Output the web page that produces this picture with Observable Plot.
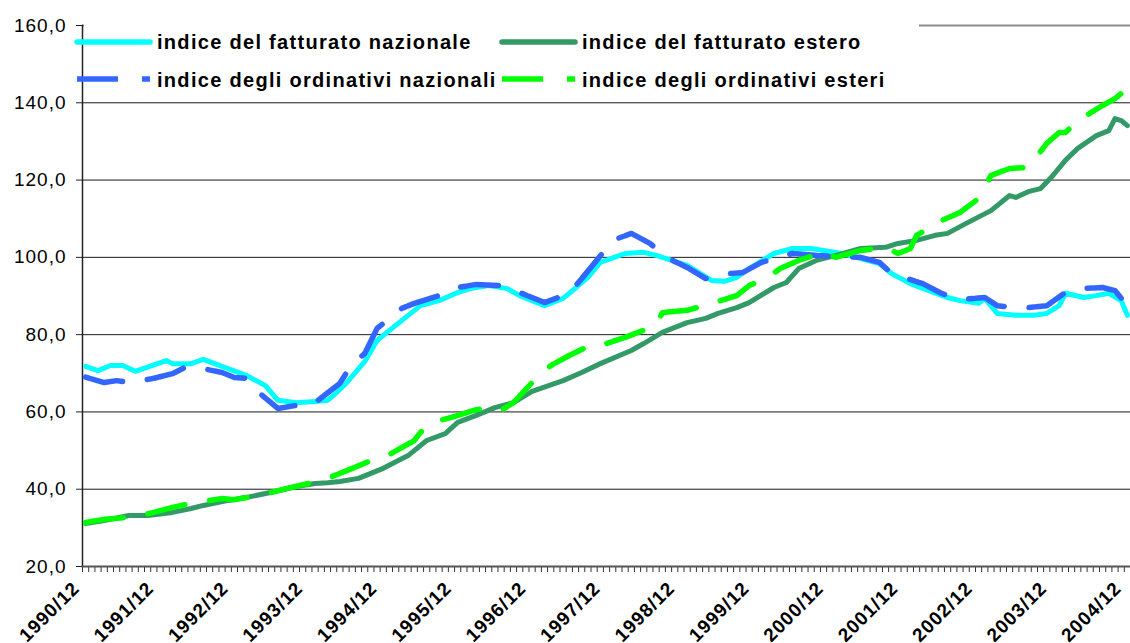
<!DOCTYPE html>
<html><head><meta charset="utf-8">
<script src="https://cdn.jsdelivr.net/npm/d3@7"></script>
<script src="https://cdn.jsdelivr.net/npm/@observablehq/plot@0.6"></script>
<style>
html,body{margin:0;padding:0;background:#fff;}
#wrap{position:relative;width:1130px;height:643px;overflow:hidden;font-family:"Liberation Sans",Arial,sans-serif;}
#wrap svg.plot text{letter-spacing:1px;}
#legend{position:absolute;left:0;top:0;}
#legend text{font-family:"Liberation Sans",Arial,sans-serif;font-weight:bold;font-size:20px;letter-spacing:1.3px;fill:#000;}
</style></head><body><div id="wrap"></div>
<script>
const tickLabels = ["1990/12","1991/12","1992/12","1993/12","1994/12","1995/12","1996/12","1997/12","1998/12","1999/12","2000/12","2001/12","2002/12","2003/12","2004/12"];
const yTicks = [20,40,60,80,100,120,140,160];
const seriesNames = ["indice del fatturato nazionale","indice del fatturato estero","indice degli ordinativi nazionali","indice degli ordinativi esteri"];
const seriesColors = ["#00FFFF","#339966","#3366FF","#00FF00"];

const fatturatoNazionale = [["1990/12",71.8],["1991/02",70.7],["1991/04",72.0],["1991/06",72.0],["1991/08",70.5],["1992/01",73.3],["1992/02",72.5],["1992/05",72.5],["1992/07",73.6],["1992/10",71.8],["1993/02",69.4],["1993/05",66.8],["1993/07",63.0],["1993/10",62.4],["1994/01",62.7],["1994/03",63.0],["1994/04",64.3],["1994/06",67.4],["1994/09",73.0],["1994/11",78.5],["1995/03",83.7],["1995/06",87.5],["1995/09",88.8],["1995/12",90.9],["1996/02",91.9],["1996/05",92.7],["1996/08",91.9],["1996/10",90.1],["1997/02",87.5],["1997/05",89.4],["1997/06",90.7],["1997/09",94.8],["1997/11",98.7],["1998/03",101.0],["1998/06",101.3],["1998/08",100.5],["1999/01",97.9],["1999/05",94.0],["1999/07",93.8],["1999/09",94.8],["1999/11",97.1],["2000/03",101.0],["2000/06",102.3],["2000/09",102.3],["2001/02",101.0],["2001/05",99.7],["2001/08",98.4],["2001/10",95.8],["2002/01",93.2],["2002/04",91.4],["2002/07",89.6],["2002/09",88.8],["2002/12",88.1],["2003/01",89.4],["2003/03",85.5],["2003/06",85.0],["2003/09",85.0],["2003/11",85.5],["2004/01",87.5],["2004/02",90.7],["2004/05",89.6],["2004/07",90.1],["2004/09",90.7],["2004/11",88.8],["2004/12",85.0]];

const fatturatoEstero = [["1990/12",31.1],["1991/03",31.9],["1991/07",33.2],["1991/10",33.2],["1992/02",34.0],["1992/05",35.0],["1992/07",35.8],["1992/11",37.1],["1993/02",37.9],["1993/06",39.2],["1993/10",40.7],["1994/01",41.5],["1994/03",41.7],["1994/05",42.0],["1994/08",42.8],["1994/12",45.4],["1995/04",48.7],["1995/07",52.6],["1995/10",54.4],["1995/12",57.3],["1996/03",59.1],["1996/06",61.1],["1996/09",62.4],["1996/12",65.3],["1997/05",68.1],["1997/08",70.2],["1997/11",72.5],["1998/04",75.9],["1998/06",77.7],["1998/09",80.6],["1999/01",83.1],["1999/04",84.2],["1999/06",85.5],["1999/09",87.0],["1999/11",88.3],["2000/03",92.2],["2000/05",93.5],["2000/07",97.1],["2000/10",99.3],["2001/01",100.5],["2001/05",102.3],["2001/09",102.6],["2001/11",103.6],["2002/02",104.4],["2002/05",105.7],["2002/07",106.2],["2002/10",108.8],["2003/02",112.1],["2003/05",116.0],["2003/06",115.5],["2003/08",117.0],["2003/10",117.8],["2003/12",121.2],["2004/02",125.1],["2004/04",128.2],["2004/07",131.5],["2004/09",132.8],["2004/10",135.9],["2004/11",135.4],["2004/12",134.1]];

const ordinativiNazionali = [["1990/12",69.0],["1991/03",67.6],["1991/05",68.1],["1991/07",67.6],["1991/11",68.7],["1992/02",69.9],["1992/04",71.5],["1992/06",71.5],["1992/10",70.2],["1992/12",68.9],["1993/02",68.7],["1993/03",66.3],["1993/07",60.9],["1993/10",61.7],["1993/12",61.7],["1994/01",62.4],["1994/05",67.4],["1994/07",72.5],["1994/09",75.1],["1994/11",81.6],["1995/03",86.8],["1995/05",88.1],["1995/09",90.1],["1995/12",92.2],["1996/03",93.0],["1996/07",92.7],["1996/10",90.9],["1997/02",88.3],["1997/06",90.7],["1997/08",94.5],["1997/10",98.4],["1998/01",104.4],["1998/04",106.2],["1998/07",103.6],["1998/10",99.7],["1999/01",97.4],["1999/04",94.5],["1999/08",95.8],["1999/10",96.1],["2000/01",98.7],["2000/06",101.0],["2000/10",100.5],["2001/05",100.0],["2001/08",98.7],["2001/10",95.8],["2002/03",93.2],["2002/06",90.7],["2002/09",89.1],["2003/01",89.6],["2003/03",87.5],["2003/07",86.8],["2003/11",87.5],["2004/02",90.9],["2004/04",91.9],["2004/08",92.2],["2004/10",91.4],["2004/12",87.5]];

const ordinativiEsteri = [["1990/12",31.4],["1991/03",32.2],["1991/07",32.7],["1991/11",34.0],["1992/02",35.3],["1992/05",36.3],["1992/10",37.6],["1992/12",37.3],["1993/04",38.4],["1993/09",40.4],["1993/12",41.5],["1994/03",42.8],["1994/07",45.4],["1994/10",47.4],["1995/01",49.0],["1995/05",52.6],["1995/06",54.7],["1995/08",57.3],["1995/11",58.6],["1996/03",60.6],["1996/05",61.1],["1996/07",60.4],["1996/09",62.4],["1996/12",67.6],["1997/03",72.0],["1997/06",74.6],["1997/10",77.7],["1997/12",77.7],["1998/03",79.3],["1998/08",82.4],["1998/09",85.7],["1999/01",86.3],["1999/05",88.1],["1999/09",90.1],["1999/11",92.7],["2000/02",94.8],["2000/04",97.1],["2000/07",99.2],["2000/11",101.3],["2001/01",100.0],["2001/05",101.8],["2001/09",102.6],["2001/11",101.0],["2002/01",102.3],["2002/02",105.7],["2002/06",109.5],["2002/09",111.6],["2002/12",115.2],["2003/02",121.2],["2003/05",123.0],["2003/08",123.3],["2003/11",129.5],["2004/01",132.3],["2004/02",132.3],["2004/04",135.4],["2004/08",139.3],["2004/10",141.1],["2004/11",142.4],["2004/12",145.3]];

// month index, 0 = 1990/12
const monthIndex = s => { const [y, m] = s.split("/").map(Number); return (y - 1990) * 12 + m - 12; };
const rows = arr => arr.map(([d, v]) => ({t: monthIndex(d), v}));
const first = monthIndex(tickLabels[0]), last = monthIndex(tickLabels[tickLabels.length - 1]);
const boundaries = d3.range(first - 0.5, last + 1, 1);
const fmt = d => d.toFixed(1).replace(".", ",");

const chart = Plot.plot({
  width: 1130, height: 643,
  marginTop: 25, marginBottom: 77, marginLeft: 82, marginRight: 0,
  style: {fontFamily: "'Liberation Sans', Arial, sans-serif", background: "white", color: "#000"},
  x: {type: "linear", domain: [first - 0.5, last + 0.5], axis: null, label: null},
  y: {domain: [yTicks[0], yTicks[yTicks.length - 1]], axis: null, label: null},
  marks: [
    Plot.ruleY(yTicks.slice(1, -1), {stroke: "#1a1a1a", strokeWidth: 1}),
    Plot.ruleY(yTicks.slice(-1), {stroke: "#8c8c8c", strokeWidth: 2}),
    Plot.axisY({ticks: yTicks, tickSize: 6, tickPadding: 10, tickFormat: fmt, fontSize: 19, stroke: "#222", label: null}),
    Plot.axisX({ticks: boundaries, tickSize: 6, tickFormat: () => "", stroke: "#333", label: null}),
    Plot.text(tickLabels, {x: d => monthIndex(d), frameAnchor: "bottom", text: d => d, rotate: -45, textAnchor: "end", dx: -5, dy: 23, fontWeight: "bold", fontSize: 19}),
    Plot.frame({anchor: "left", stroke: "#222", strokeWidth: 1.5}),
    Plot.frame({anchor: "bottom", stroke: "#555", strokeWidth: 2}),
    Plot.line(rows(fatturatoNazionale), {x: "t", y: "v", stroke: seriesColors[0], strokeWidth: 5, strokeLinejoin: "round"}),
    Plot.line(rows(fatturatoEstero), {x: "t", y: "v", stroke: seriesColors[1], strokeWidth: 5, strokeLinejoin: "round"}),
    Plot.line(rows(ordinativiNazionali), {x: "t", y: "v", stroke: seriesColors[2], strokeWidth: 5.5, strokeDasharray: "5,2,31,25", strokeLinejoin: "round"}),
    Plot.line(rows(ordinativiEsteri), {x: "t", y: "v", stroke: seriesColors[3], strokeWidth: 5.5, strokeDasharray: "5,2,31,25", strokeLinejoin: "round"})
  ]
});
chart.classList.add("plot");
const wrap = document.getElementById("wrap");
wrap.appendChild(chart);

// in-plot legend (white box over the top of the plot area)
const ns = "http://www.w3.org/2000/svg";
const leg = document.createElementNS(ns, "svg");
leg.setAttribute("id", "legend");
leg.setAttribute("width", 1130);
leg.setAttribute("height", 100);
const add = (tag, attrs, txt) => { const e = document.createElementNS(ns, tag); for (const k in attrs) e.setAttribute(k, attrs[k]); if (txt) e.textContent = txt; leg.appendChild(e); return e; };
add("rect", {x: 84, y: 18, width: 835, height: 78, fill: "white"});
const cols = [77, 502], rowsY = [42, 79], textBase = [49, 87];
seriesNames.forEach((name, i) => {
  const c = i % 2, r = Math.floor(i / 2), x0 = cols[c], y0 = rowsY[r];
  if (r === 0) {
    add("line", {x1: x0, x2: x0 + 73, y1: y0, y2: y0, stroke: seriesColors[i], "stroke-width": 5.5, "stroke-linecap": "round"});
  } else {
    add("line", {x1: x0, x2: x0 + 41, y1: y0, y2: y0, stroke: seriesColors[i], "stroke-width": 5.5});
    add("line", {x1: x0 + 65, x2: x0 + 73, y1: y0, y2: y0, stroke: seriesColors[i], "stroke-width": 5.5});
  }
  add("text", {x: x0 + 80, y: textBase[r]}, name);
});
wrap.appendChild(leg);
</script>
</body></html>
